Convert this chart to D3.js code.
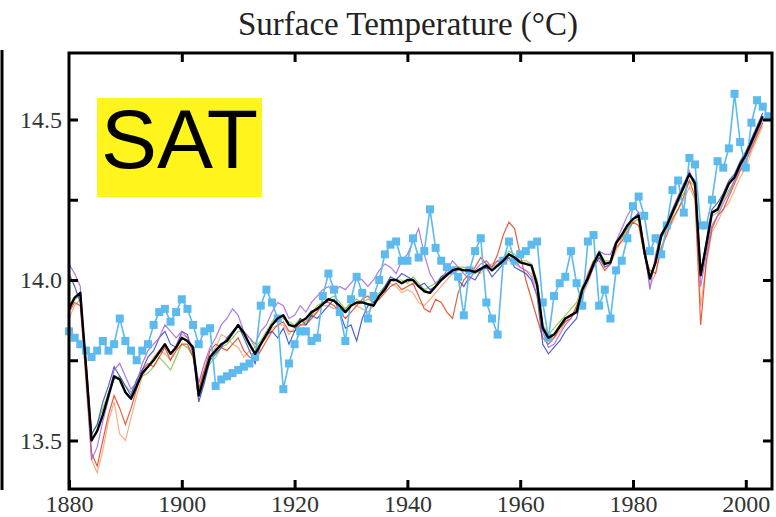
<!DOCTYPE html>
<html>
<head>
<meta charset="utf-8">
<script src="https://cdn.jsdelivr.net/npm/d3@7"></script>
<style>
  html, body { margin: 0; padding: 0; background: #fff; }
  svg { display: block; }
</style>
</head>
<body>
<div id="chart"></div>
<script>
// annual values, 1880 onward (°C)
const firstYear = 1880;

const ensembleMean = [
  13.91,13.945,13.96,13.735,13.50,13.53,13.58,13.64,13.70,13.69,
  13.65,13.63,13.67,13.71,13.73,13.75,13.775,13.80,13.77,13.79,
  13.82,13.81,13.79,13.64,13.70,13.76,13.78,13.80,13.81,13.835,
  13.86,13.835,13.80,13.77,13.80,13.83,13.86,13.88,13.89,13.86,
  13.855,13.87,13.88,13.90,13.91,13.925,13.94,13.935,13.92,13.90,
  13.92,13.93,13.93,13.925,13.92,13.95,13.97,14.00,14.00,13.99,
  14.00,14.00,13.98,13.965,13.96,13.98,14.00,14.015,14.03,14.035,
  14.03,14.03,14.025,14.035,14.045,14.03,14.045,14.06,14.08,14.07,
  14.055,14.05,14.045,13.985,13.85,13.82,13.83,13.855,13.88,13.89,
  13.90,13.97,14.005,14.05,14.085,14.05,14.055,14.115,14.14,14.17,
  14.19,14.20,14.09,14.005,14.055,14.14,14.17,14.21,14.25,14.29,
  14.33,14.30,14.015,14.11,14.21,14.22,14.26,14.30,14.32,14.36,
  14.39,14.43,14.47,14.51
];

const observed = [
  13.84,13.82,13.80,13.78,13.76,13.78,13.81,13.78,13.80,13.88,
  13.81,13.78,13.75,13.78,13.80,13.86,13.90,13.91,13.87,13.90,
  13.94,13.91,13.86,13.80,13.84,13.85,13.67,13.69,13.70,13.71,
  13.72,13.73,13.74,13.76,13.92,13.97,13.93,13.88,13.66,13.74,
  13.80,13.84,13.84,13.81,13.82,13.95,14.02,13.97,13.90,13.81,
  13.94,14.01,13.96,13.88,13.95,14.00,14.08,14.11,14.12,14.06,
  14.06,14.13,14.07,14.09,14.22,14.10,14.06,14.04,14.03,14.01,
  13.89,14.03,14.09,14.13,13.93,13.88,13.83,14.06,14.12,14.06,
  14.08,14.09,14.11,14.12,13.93,13.82,13.95,13.99,14.01,14.09,
  13.99,13.92,14.12,14.14,13.92,13.97,13.88,14.03,14.06,14.13,
  14.23,14.26,14.20,14.09,14.13,14.08,14.17,14.28,14.31,14.21,
  14.38,14.36,14.17,14.17,14.25,14.37,14.35,14.41,14.58,14.43,
  14.35,14.49,14.56,14.54,14.51
];

const runRed = [
  13.90,13.93,13.92,13.70,13.46,13.42,13.50,13.58,13.64,13.60,
  13.55,13.60,13.66,13.72,13.74,13.73,13.76,13.79,13.75,13.78,
  13.80,13.80,13.76,13.66,13.72,13.78,13.80,13.79,13.78,13.80,
  13.82,13.78,13.76,13.75,13.78,13.81,13.84,13.86,13.87,13.84,
  13.84,13.86,13.86,13.88,13.90,13.93,13.93,13.92,13.90,13.88,
  13.90,13.92,13.94,13.95,13.93,13.94,13.96,13.98,13.99,13.97,
  13.98,13.99,13.95,13.91,13.90,13.94,13.93,13.90,13.88,13.96,
  14.00,14.02,14.04,14.07,14.05,14.04,14.08,14.14,14.18,14.16,
  14.08,14.00,13.94,13.88,13.82,13.80,13.82,13.85,13.87,13.88,
  13.92,13.96,14.02,14.06,14.06,14.03,14.05,14.10,14.12,14.15,
  14.18,14.17,14.08,14.03,14.02,14.10,14.14,14.19,14.22,14.26,
  14.31,14.26,13.86,14.06,14.16,14.20,14.22,14.26,14.30,14.34,
  14.37,14.41,14.45,14.49
];

const runOrange = [
  13.88,13.92,13.94,13.68,13.44,13.40,13.47,13.56,13.62,13.52,
  13.50,13.57,13.64,13.70,13.73,13.76,13.78,13.77,13.75,13.80,
  13.83,13.82,13.77,13.68,13.72,13.76,13.79,13.83,13.82,13.80,
  13.79,13.76,13.78,13.79,13.80,13.82,13.85,13.86,13.86,13.83,
  13.85,13.86,13.87,13.89,13.90,13.92,13.92,13.91,13.92,13.91,
  13.93,13.92,13.91,13.90,13.92,13.95,13.97,13.99,13.98,13.96,
  13.97,13.96,13.93,13.92,13.94,13.96,13.98,14.00,14.02,14.03,
  14.03,14.04,14.03,14.02,14.04,14.05,14.06,14.07,14.06,14.05,
  14.04,14.03,14.02,13.97,13.86,13.83,13.82,13.84,13.87,13.89,
  13.91,13.95,13.99,14.04,14.07,14.06,14.05,14.09,14.13,14.16,
  14.18,14.19,14.11,13.98,14.02,14.10,14.15,14.18,14.22,14.25,
  14.29,14.25,13.92,14.05,14.15,14.18,14.22,14.24,14.28,14.32,
  14.35,14.40,14.44,14.48
];

const runPurple = [
  14.05,14.02,13.98,13.72,13.44,13.48,13.56,13.63,13.72,13.74,
  13.70,13.66,13.68,13.74,13.78,13.80,13.82,13.86,13.84,13.82,
  13.84,13.82,13.78,13.68,13.74,13.79,13.82,13.86,13.88,13.91,
  13.89,13.84,13.82,13.80,13.84,13.86,13.90,13.93,13.92,13.88,
  13.89,13.92,13.90,13.93,13.95,13.97,13.98,13.96,13.98,13.97,
  13.99,14.01,14.00,13.98,14.00,14.03,14.05,14.04,14.02,14.06,
  14.08,14.12,14.16,14.08,14.02,13.99,14.00,14.03,14.06,14.04,
  14.02,14.00,14.03,14.05,14.06,14.04,14.06,14.05,14.08,14.06,
  14.04,14.03,14.01,13.95,13.84,13.79,13.80,13.83,13.86,13.88,
  13.91,13.96,14.01,14.04,14.09,14.08,14.08,14.12,14.16,14.20,
  14.23,14.21,14.10,13.97,14.08,14.14,14.18,14.22,14.26,14.30,
  14.34,14.29,13.98,14.08,14.17,14.20,14.24,14.27,14.31,14.35,
  14.38,14.42,14.46,14.50
];

const runBlue = [
  14.02,13.98,13.93,13.75,13.52,13.55,13.62,13.67,13.73,13.70,
  13.67,13.64,13.69,13.72,13.76,13.78,13.82,13.84,13.80,13.79,
  13.84,13.83,13.77,13.62,13.68,13.75,13.77,13.79,13.82,13.84,
  13.86,13.82,13.78,13.74,13.80,13.83,13.84,13.82,13.85,13.80,
  13.84,13.88,13.86,13.89,13.88,13.90,13.92,13.94,13.90,13.85,
  13.86,13.81,13.88,13.92,13.93,13.95,13.98,14.01,14.00,14.02,
  14.01,14.00,13.98,13.99,13.97,13.98,14.01,14.02,14.03,14.00,
  13.98,14.01,14.00,14.03,14.04,14.01,14.03,14.05,14.07,14.04,
  14.03,14.02,14.00,13.95,13.80,13.77,13.79,13.81,13.84,13.86,
  13.88,13.96,14.00,14.04,14.07,14.04,14.05,14.11,14.14,14.17,
  14.19,14.21,14.08,14.00,14.06,14.13,14.17,14.22,14.26,14.30,
  14.33,14.31,14.02,14.12,14.22,14.24,14.27,14.31,14.33,14.37,
  14.40,14.44,14.48,14.52
];

const runGreen = [
  13.92,13.94,13.95,13.74,13.52,13.55,13.60,13.65,13.69,13.70,
  13.67,13.65,13.68,13.70,13.71,13.73,13.76,13.74,13.72,13.76,
  13.80,13.79,13.76,13.66,13.71,13.74,13.76,13.79,13.80,13.82,
  13.84,13.84,13.82,13.79,13.81,13.84,13.87,13.89,13.88,13.87,
  13.86,13.88,13.87,13.89,13.92,13.93,13.94,13.95,13.93,13.91,
  13.93,13.94,13.93,13.94,13.93,13.96,13.98,14.00,14.00,14.00,
  13.99,14.01,13.99,13.97,13.98,13.99,14.01,14.02,14.04,14.04,
  14.04,14.03,14.02,14.03,14.05,14.04,14.05,14.07,14.09,14.08,
  14.06,14.06,14.05,14.00,13.86,13.83,13.85,13.87,13.89,13.91,
  13.93,13.98,14.01,14.06,14.09,14.06,14.06,14.12,14.13,14.16,
  14.18,14.19,14.10,14.01,14.05,14.13,14.16,14.20,14.24,14.27,
  14.31,14.29,14.03,14.10,14.20,14.21,14.25,14.28,14.31,14.35,
  14.38,14.42,14.46,14.50
];

const yTicks = [13.5, 13.75, 14.0, 14.25, 14.5];
const xTicks = [1880, 1900, 1920, 1940, 1960, 1980, 2000];

const W = 776, H = 517;
const m = {left: 69, right: 772, top: 53, bottom: 489};
const serif = "'Liberation Serif', 'Times New Roman', serif";

const svg = d3.select("#chart").append("svg")
  .attr("width", W).attr("height", H);

const x = d3.scaleLinear()
  .domain([1880, 1880 + (m.right - m.left) / 5.64])
  .range([m.left, m.right]);
const y = d3.scaleLinear()
  .domain([14 - (m.bottom - 280) / 321, 14 + (280 - m.top) / 321])
  .range([m.bottom, m.top]);

function toPts(arr){
  return arr.map((v,i)=>[firstYear + i, v]);
}

const line = d3.line().x(d=>x(d[0])).y(d=>y(d[1]));

// title
svg.append("text")
  .attr("x", 408).attr("y", 35)
  .attr("text-anchor","middle")
  .attr("font-family", serif)
  .attr("font-size", 33)
  .attr("fill","#222")
  .text("Surface Temperature (°C)");

// edge of the neighbouring panel
svg.append("line")
  .attr("x1",2).attr("x2",2).attr("y1",50).attr("y2",490)
  .attr("stroke","#000").attr("stroke-width",3);

const plot = svg.append("g");

// model runs
const runs = [
  {data: runOrange, color: "#f2a272"},
  {data: runGreen, color: "#7cc544"},
  {data: runRed, color: "#e8401c"},
  {data: runBlue, color: "#2f48c8"},
  {data: runPurple, color: "#a062e2"}
];
runs.forEach(r=>{
  plot.append("path")
    .attr("d", line(toPts(r.data)))
    .attr("fill","none")
    .attr("stroke", r.color)
    .attr("stroke-width",1.2)
    .attr("opacity",0.85);
});

// observations
const obsPts = toPts(observed);
plot.append("path")
  .attr("d", line(obsPts))
  .attr("fill","none")
  .attr("stroke","#5cbaee")
  .attr("stroke-width",1.6);
plot.selectAll("rect.obs")
  .data(obsPts)
  .enter().append("rect")
  .attr("class","obs")
  .attr("x", d=>x(d[0]) - 4)
  .attr("y", d=>y(d[1]) - 4)
  .attr("width",8).attr("height",8)
  .attr("fill","#5cbaee");

// ensemble mean
plot.append("path")
  .attr("d", line(toPts(ensembleMean)))
  .attr("fill","none")
  .attr("stroke","#000")
  .attr("stroke-width",2.4)
  .attr("stroke-linejoin","round");

// frame
svg.append("rect")
  .attr("x",m.left).attr("y",m.top)
  .attr("width",m.right-m.left).attr("height",m.bottom-m.top)
  .attr("fill","none").attr("stroke","#000").attr("stroke-width",3);

const axes = svg.append("g");
axes.append("g")
  .attr("transform","translate("+m.left+",0)")
  .call(d3.axisLeft(y).tickValues(yTicks).tickSize(-9).tickPadding(7)
    .tickFormat(d=> Math.round(d*100)%50===0 ? d3.format(".1f")(d) : ""));
axes.append("g")
  .attr("transform","translate("+m.right+",0)")
  .call(d3.axisRight(y).tickValues(yTicks).tickSize(-9).tickFormat(""));
axes.append("g")
  .attr("transform","translate(0,"+m.bottom+")")
  .call(d3.axisBottom(x).tickValues(xTicks).tickSize(-9).tickPadding(6)
    .tickFormat(d3.format("d")));
axes.append("g")
  .attr("transform","translate(0,"+m.top+")")
  .call(d3.axisTop(x).tickValues(xTicks.slice(1)).tickSize(-9).tickFormat(""));

axes.selectAll("g").attr("font-family", serif).attr("font-size", 24);
axes.selectAll(".domain").remove();
axes.selectAll(".tick line").attr("stroke","#000").attr("stroke-width",3);
axes.selectAll(".tick text").attr("fill","#333");

// SAT label
svg.append("rect")
  .attr("x",97).attr("y",98).attr("width",165).attr("height",99)
  .attr("fill","#fff51c");
svg.append("text")
  .attr("x",101).attr("y",168)
  .attr("font-family","'Liberation Sans', Arial, sans-serif")
  .attr("font-size",84)
  .attr("fill","#000")
  .text("SAT");
</script>
</body>
</html>
